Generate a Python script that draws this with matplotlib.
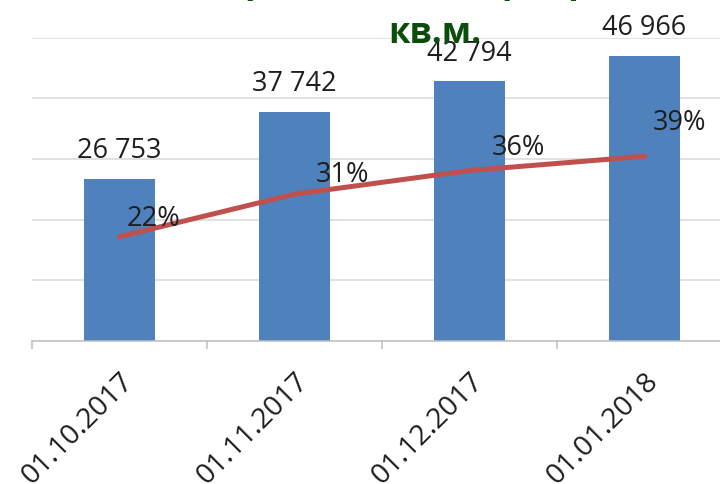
import numpy as np
import matplotlib
matplotlib.use('Agg')
from matplotlib import pyplot as plt

# data
dates = ['01.10.2017', '01.11.2017', '01.12.2017', '01.01.2018']
area = [26753, 37742, 42794, 46966]
share = [0.22, 0.31, 0.36, 0.39]
area_labels = ['26 753', '37 742', '42 794', '46 966']
share_labels = ['22%', '31%', '36%', '39%']

plt.rcParams['font.family'] = ['Open Sans', 'DejaVu Sans']

bar_col = '#4f81bd'
line_col = '#c0504d'
txt_col = '#1e1e1e'
green = '#0b4d0b'

fig = plt.figure(figsize=(7.2, 4.84), dpi=100)
W, H = 720, 484
# plot area in pixels: x 32 -> 732 (cropped at right), y 37.7 -> 340.7
ax = fig.add_axes([32 / W, (H - 340.7) / H, 700 / W, 303 / H])
x = np.arange(len(dates))
ax.bar(x, area, width=0.41, color=bar_col, zorder=2)
ax.set_xlim(-0.5, 3.5)
ax.set_ylim(0, 50000)
ax.set_yticks(np.arange(0, 50001, 10000))
ax.yaxis.grid(True, color='#d9d9d9', lw=1.1, zorder=0)
ax.tick_params(axis='y', length=0, labelleft=False)
for s in ['left', 'right', 'top']:
    ax.spines[s].set_visible(False)
ax.spines['bottom'].set_color('#bfbfbf')
ax.spines['bottom'].set_linewidth(1.1)
ax.set_xticks(x)
ax.set_xticklabels(dates, rotation=45, ha='right', va='top',
                   rotation_mode='anchor', fontsize=20.5, color=txt_col)
ax.tick_params(axis='x', which='major', length=0, pad=19)
ax.set_xticks(np.arange(-0.5, 4, 1), minor=True)
ax.tick_params(axis='x', which='minor', length=6, color='#bfbfbf', width=1.1)

# title, mostly cut off by the crop
fig.text(430 / W, 1 + 8 / H, 'Площадь проданных квартир и доля, тыс.',
         ha='center', va='baseline', fontsize=25, fontweight='bold', color=green)
fig.text(435 / W, (H - 43) / H, 'кв.м.', ha='center', va='baseline',
         fontsize=25, fontweight='bold', color=green)

for xi, v, lab in zip(x, area, area_labels):
    ax.annotate(lab, (xi, v), xytext=(0, 15), textcoords='offset points',
                ha='center', va='baseline', fontsize=19.5, color=txt_col, zorder=5)

ax2 = ax.twinx()
ax2.set_ylim(0, 0.641)
ax2.axis('off')
ax2.plot(x, share, color=line_col, lw=3.6, solid_capstyle='round', zorder=3)
offs = [(5, 8), (15, 9), (16, 11), (6, 19)]
for xi, v, lab, o in zip(x, share, share_labels, offs):
    ax2.annotate(lab, (xi, v), xytext=o, textcoords='offset points',
                 ha='left', va='baseline', fontsize=19.5, color=txt_col, zorder=5)

plt.savefig('out.png', dpi=100)
